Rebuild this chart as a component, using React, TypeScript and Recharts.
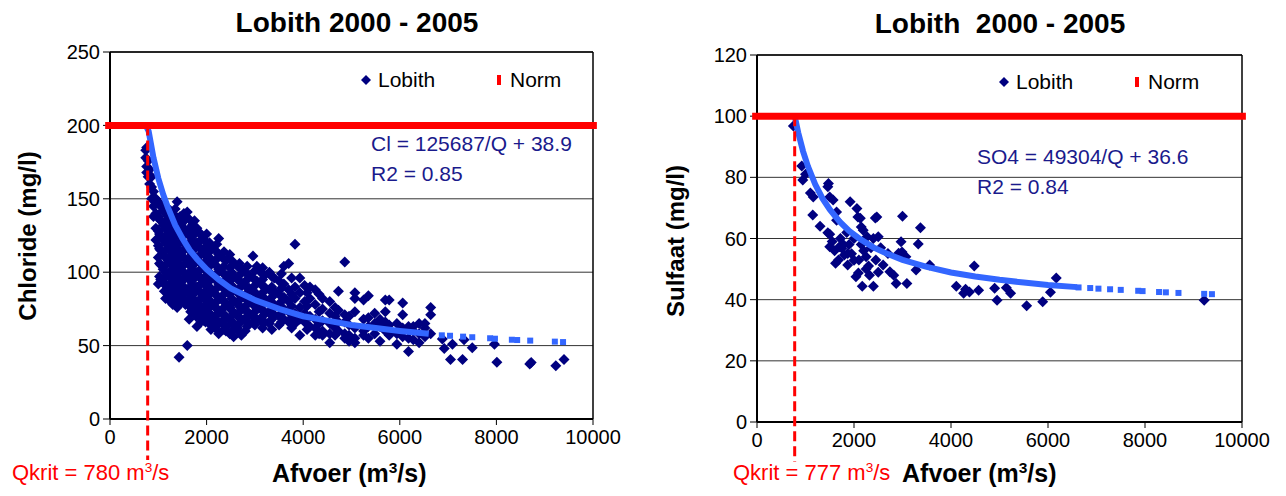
import React from "react";
import {
  ScatterChart,
  Scatter,
  XAxis,
  YAxis,
  CartesianGrid,
  ReferenceLine,
  Legend,
} from "recharts";
/* eslint-disable  @typescript-eslint/no-explicit-any */

const NAVY = "#000080";
const FIT_BLUE = "#3366ff";
const NORM_RED = "#ff0000";
const EQ_COLOR = "#1a1a8c";
const FONT = '"Liberation Sans", Arial, sans-serif';

const afvoerTicks = [0, 2000, 4000, 6000, 8000, 10000];
const chlorideTicks = [0, 50, 100, 150, 200, 250];
const sulfateTicks = [0, 20, 40, 60, 80, 100, 120];

// Lobith chloride, grouped per discharge: [Q (m3/s), Cl (mg/l) readings]
const chlorideCols: [number, number[]][] = [
  [740, [183, 178]],
  [760, [172, 168, 185]],
  [790, [176, 165]],
  [820, [170, 160]],
  [860, [158, 150, 165]],
  [900, [155, 145, 138]],
  [950, [150, 140, 130, 122]],
  [1000, [148, 138, 128, 118, 110, 92]],
  [1050, [145, 135, 125, 115, 105, 95]],
  [1100, [142, 132, 122, 112, 102, 93]],
  [1150, [140, 130, 120, 110, 100, 91, 82]],
  [1200, [138, 128, 118, 108, 98, 88]],
  [1250, [142, 133, 124, 115, 106, 97, 88, 80]],
  [1300, [140, 131, 122, 113, 104, 95, 86, 78]],
  [1390, [148, 137, 128, 119, 110, 101, 92, 83, 76]],
  [1430, [42, 135, 125, 115, 105, 95, 85, 78]],
  [1480, [133, 124, 114, 104, 94, 85, 80]],
  [1530, [140, 130, 120, 110, 100, 90, 81]],
  [1600, [141, 128, 118, 108, 98, 88, 80, 50]],
  [1640, [136, 125, 115, 105, 95, 85, 77, 68]],
  [1700, [132, 122, 112, 102, 92, 82, 75]],
  [1750, [135, 126, 116, 106, 96, 86, 78]],
  [1800, [130, 120, 110, 100, 90, 80, 72, 63]],
  [1850, [127, 117, 107, 97, 87, 78, 70]],
  [1900, [125, 115, 105, 95, 85, 76, 69]],
  [1950, [122, 112, 102, 92, 82, 74, 67]],
  [2000, [126, 118, 108, 98, 88, 78, 70]],
  [2060, [120, 110, 100, 90, 81, 72, 65]],
  [2120, [117, 107, 97, 87, 78, 70, 63]],
  [2180, [115, 105, 95, 85, 76, 68, 62]],
  [2250, [123, 112, 102, 92, 83, 74, 66, 58]],
  [2320, [110, 100, 90, 81, 72, 65]],
  [2400, [108, 98, 88, 79, 70, 63, 60]],
  [2480, [112, 103, 94, 85, 76, 68, 58]],
  [2560, [106, 97, 88, 80, 72, 65, 56]],
  [2640, [104, 95, 86, 78, 70, 62]],
  [2720, [102, 93, 84, 76, 68, 57]],
  [2800, [100, 91, 82, 74, 67, 60]],
  [2880, [98, 89, 80, 72, 65]],
  [2960, [111, 96, 87, 78, 70, 66]],
  [3040, [104, 94, 85, 76, 68]],
  [3120, [100, 92, 83, 75, 67]],
  [3200, [98, 90, 82, 73, 66]],
  [3300, [100, 88, 80, 72, 65]],
  [3400, [96, 87, 78, 71]],
  [3500, [94, 85, 77, 70, 64]],
  [3600, [104, 92, 83, 75, 68]],
  [3700, [106, 88, 80, 73, 66]],
  [3830, [119, 90, 82, 72, 65]],
  [3930, [96, 86, 76, 68, 57]],
  [4030, [91, 80, 72, 66]],
  [4140, [90, 82, 70, 63]],
  [4250, [88, 78, 68, 62, 57]],
  [4400, [82, 75, 67, 60, 57]],
  [4550, [80, 72, 65, 58, 52]],
  [4660, [76, 70, 62, 57]],
  [4730, [87, 74, 66, 60]],
  [4860, [107, 71, 66, 58, 55]],
  [4950, [70, 64, 57, 53]],
  [5070, [86, 82, 73, 62, 55, 52]],
  [5250, [81, 68, 60, 57]],
  [5350, [84, 69, 63, 55]],
  [5480, [72, 65, 58]],
  [5590, [68, 63, 53]],
  [5700, [81, 73, 66, 60]],
  [5780, [81, 64, 57]],
  [5940, [65, 58, 51]],
  [6060, [79, 71, 62, 56]],
  [6180, [63, 55, 46]],
  [6280, [63, 60, 54]],
  [6400, [65, 58, 52]],
  [6520, [65, 62, 56]],
  [6640, [76, 71, 58]],
  [6880, [54.5]],
  [6920, [48]],
  [7050, [40.6]],
  [7090, [51]],
  [7300, [40.6]],
  [7330, [54]],
  [7500, [48.6]],
  [7960, [51]],
  [8010, [38.6]],
  [8690, [37.5]],
  [8720, [38.5]],
  [9230, [36.3]],
  [9400, [40.6]],
];

// the dense core between 1000 and 4500 m3/s (readings in between the columns above)
const chlorideCoreCols: [number, number[]][] = [
  [1025, [146, 136, 126, 116, 106, 97]],
  [1125, [144, 134, 124, 114, 104, 96, 87]],
  [1225, [140, 130, 120, 110, 100, 92, 84]],
  [1275, [137, 127, 117, 108, 99, 90, 82]],
  [1350, [143, 134, 125, 116, 107, 98, 89, 81]],
  [1450, [138, 129, 120, 110, 100, 90, 82]],
  [1560, [136, 126, 116, 106, 96, 86, 78]],
  [1670, [130, 120, 110, 100, 90, 80, 73]],
  [1780, [127, 117, 107, 97, 87, 77, 70]],
  [1880, [122, 112, 102, 92, 82, 73, 66]],
  [1980, [121, 113, 103, 93, 84, 75, 66]],
  [2090, [115, 105, 95, 86, 77, 68, 61]],
  [2210, [119, 109, 99, 89, 80, 71, 64]],
  [2360, [114, 104, 94, 85, 76, 68, 61]],
  [2520, [108, 100, 91, 82, 74, 66, 60]],
  [2680, [106, 98, 89, 81, 73, 65, 59]],
  [2840, [104, 95, 86, 78, 70, 63]],
  [3000, [101, 91, 82, 73, 64]],
  [3160, [103, 95, 86, 78, 70, 62]],
  [3350, [97, 90, 83, 75, 68, 61]],
  [3550, [99, 89, 80, 72, 66]],
  [3760, [96, 85, 77, 69, 62]],
  [4080, [86, 77, 69, 61]],
  [4330, [85, 73, 65, 58]],
];

// fitted chloride, drawn solid where the points are dense
const chlorideFit: [number, number][] = [
  [740, 200], [800, 196], [900, 178], [1000, 164], [1100, 153], [1200, 144],
  [1350, 132], [1500, 123], [1650, 115], [1800, 109], [2000, 102], [2250, 95],
  [2500, 89], [2750, 85], [3000, 81], [3500, 75], [4000, 70], [4500, 67],
  [5000, 64], [5500, 62], [6000, 60], [6600, 58],
];
const chlorideFitTail: [number, number][] = [
  [6870, 57], [7040, 56.7], [7310, 56.1], [7500, 55.7], [7870, 55], [7970, 54.7],
  [8320, 54], [8430, 53.8], [8700, 53.4], [9210, 52.7], [9380, 52.4],
];

// Lobith sulfate: [Q (m3/s), SO4 (mg/l)]
const sulfatePoints: [number, number][] = [
  [750, 96.8], [923, 83.7], [944, 79.1], [1000, 81], [1100, 74.9], [1160, 73.6],
  [1150, 67.7], [1300, 64], [1460, 76.9], [1473, 78], [1500, 73.6], [1570, 72.6],
  [1460, 61.9], [1500, 61.4], [1500, 57.3], [1640, 68.7], [1640, 66], [1620, 51.9],
  [1700, 57.3], [1750, 56.8], [1800, 54.6], [1870, 55.1], [1870, 51.3], [1920, 72],
  [2000, 52.9], [2040, 47.5], [2060, 69.8], [2080, 67], [2130, 66.6], [2150, 63.8],
  [2190, 62.7], [2090, 48.7], [2170, 44.4], [2200, 56], [2270, 60.6], [2320, 48],
  [2250, 50], [2400, 60], [2400, 44.4], [2440, 66.7], [2470, 67], [2500, 60.6],
  [2550, 57], [2600, 51.3], [2700, 55.1], [2740, 49.1], [2820, 48], [2870, 45.3],
  [2920, 55.2], [2990, 55.6], [2970, 58.9], [3000, 67.3], [3070, 54], [3090, 45.3],
  [3280, 49.7], [3325, 58.2], [3370, 63.5], [3560, 51.3], [1550, 59], [1600, 56],
  [1680, 53], [1720, 60], [1780, 58], [1850, 62], [1900, 58], [1950, 55],
  [2000, 60], [2100, 53], [2150, 58], [2250, 54], [2300, 51], [2350, 57],
  [2450, 53], [2500, 49], [4110, 44.4], [4260, 42.1], [4300, 43.4], [4380, 42.5],
  [4480, 51], [4570, 43.1], [4900, 43.7], [4950, 39.8], [5140, 43.9], [5230, 42.1],
  [5560, 38], [5890, 39.3], [6050, 42.4], [6170, 47.1], [9220, 39.8],
];
const sulfateFit: [number, number][] = [
  [777, 100], [850, 94.6], [950, 88.5], [1050, 83.6], [1200, 77.7], [1350, 73.1],
  [1500, 69.5], [1700, 65.6], [1900, 62.5], [2100, 60.1], [2400, 57.1], [2700, 54.9],
  [3000, 53], [3500, 50.7], [4000, 48.9], [4500, 47.6], [5000, 46.5], [5500, 45.6],
  [6000, 44.8], [6600, 44.1],
];
const sulfateFitTail: [number, number][] = [
  [6630, 44], [6870, 43.8], [7040, 43.6], [7280, 43.4], [7500, 43.2], [7860, 42.9],
  [7950, 42.8], [8290, 42.5], [8430, 42.4], [8690, 42.2], [9220, 41.9], [9380, 41.8],
];

const toXY = (rows: [number, number][]) => rows.map(([q, c]) => ({ q, c }));
const fromCols = (cols: [number, number[]][]) =>
  cols.flatMap(([q, cs]) => cs.map((c) => ({ q, c })));

const Diamond = (props: any) => {
  const { cx, cy } = props;
  const r = 5.5;
  return (
    <path
      d={`M${cx},${cy - r}L${cx + r},${cy}L${cx},${cy + r}L${cx - r},${cy}Z`}
      fill={NAVY}
    />
  );
};

const FitSquare = (props: any) => {
  const { cx, cy } = props;
  return <rect x={cx - 3} y={cy - 3} width={6} height={6} fill={FIT_BLUE} />;
};

const NoShape = () => <g />;

const LegendBox = () => (
  <div
    style={{
      display: "flex",
      alignItems: "center",
      fontSize: 21,
      lineHeight: "24px",
      color: "#000",
      whiteSpace: "nowrap",
      fontFamily: FONT,
    }}
  >
    <svg width={12} height={12}>
      <path d="M6,1L11,6L6,11L1,6Z" fill={NAVY} />
    </svg>
    <span style={{ marginLeft: 6, width: 118, display: "inline-block" }}>Lobith</span>
    <svg width={6} height={12}>
      <rect x={1} y={1} width={4} height={10} fill={NORM_RED} />
    </svg>
    <span style={{ marginLeft: 8 }}>Norm</span>
  </div>
);

const Sup3 = () => (
  <span style={{ fontSize: "0.62em", position: "relative", top: "-0.6em" }}>3</span>
);

const Text = ({ x, y, children, style, center, rotate }: any) => (
  <div
    style={{
      position: "absolute",
      left: x,
      top: y,
      whiteSpace: "pre",
      lineHeight: 1,
      transform: `translate(${center ? "-50%" : "0"}, -50%)${rotate ? " rotate(-90deg)" : ""}`,
      ...style,
    }}
  >
    {children}
  </div>
);

function Panel({ left, width, marginTop, marginRight, xAxisHeight, points, fit, fitTail, yTicks, norm, qkrit, dashEnd, legendX, legendY }: any) {
  const yMax = yTicks[yTicks.length - 1];
  return (
    <div style={{ position: "absolute", left, top: 0 }}>
      <ScatterChart
        width={width}
        height={496}
        margin={{ top: marginTop, right: marginRight, bottom: 0, left: 0 }}
      >
        <CartesianGrid horizontal vertical={false} stroke="#333" />
        <XAxis
          type="number"
          dataKey="q"
          domain={[0, 10000]}
          ticks={afvoerTicks}
          height={xAxisHeight}
          tickSize={6}
          tickMargin={5}
          axisLine={{ stroke: "#000", strokeWidth: 2 }}
          tickLine={{ stroke: "#000" }}
          tick={{ fill: "#000", fontSize: 20 }}
          interval={0}
          allowDataOverflow
        />
        <YAxis
          type="number"
          dataKey="c"
          domain={[0, yMax]}
          ticks={yTicks}
          width={110}
          tickSize={7}
          tickMargin={3}
          axisLine={{ stroke: "#000", strokeWidth: 2 }}
          tickLine={{ stroke: "#000" }}
          tick={{ fill: "#000", fontSize: 20 }}
          interval={0}
          allowDataOverflow
        />
        <ReferenceLine y={yMax} stroke="#000" strokeWidth={1.5} />
        <ReferenceLine x={10000} stroke="#000" strokeWidth={1.5} />
        <Scatter
          name="Lobith"
          data={points}
          shape={<Diamond />}
          isAnimationActive={false}
        />
        <Scatter
          name="fit"
          data={toXY(fit)}
          line={{ stroke: FIT_BLUE, strokeWidth: 6 }}
          shape={<NoShape />}
          legendType="none"
          isAnimationActive={false}
        />
        <Scatter
          name="fit tail"
          data={toXY(fitTail)}
          shape={<FitSquare />}
          legendType="none"
          isAnimationActive={false}
        />
        <ReferenceLine
          segment={[
            { x: -100, y: norm },
            { x: 10080, y: norm },
          ]}
          ifOverflow="visible"
          stroke={NORM_RED}
          strokeWidth={7}
          zIndex={1000}
        />
        <ReferenceLine
          segment={[
            { x: qkrit, y: norm },
            { x: qkrit, y: dashEnd },
          ]}
          ifOverflow="visible"
          stroke={NORM_RED}
          strokeWidth={3}
          strokeDasharray="10 5"
          zIndex={1000}
        />
        <Legend
          layout="horizontal"
          verticalAlign="middle"
          align="center"
          content={<LegendBox />}
          wrapperStyle={{ left: legendX, top: legendY, right: "auto", width: "auto" }}
        />
      </ScatterChart>
    </div>
  );
}

export default function App() {
  const chloridePoints = [...fromCols(chlorideCols), ...fromCols(chlorideCoreCols)];
  return (
    <div
      style={{
        position: "relative",
        width: 1286,
        height: 496,
        margin: -8,
        background: "#fff",
        fontFamily: FONT,
        overflow: "hidden",
      }}
    >
      <Panel
        left={0}
        width={635}
        marginTop={52}
        marginRight={42}
        xAxisHeight={77}
        points={chloridePoints}
        fit={chlorideFit}
        fitTail={chlorideFitTail}
        yTicks={chlorideTicks}
        norm={200}
        qkrit={780}
        dashEnd={-28}
        legendX={360}
        legendY={68}
      />
      <Panel
        left={647}
        width={639}
        marginTop={55}
        marginRight={44}
        xAxisHeight={74}
        points={toXY(sulfatePoints)}
        fit={sulfateFit}
        fitTail={sulfateFitTail}
        yTicks={sulfateTicks}
        norm={100}
        qkrit={777}
        dashEnd={-13}
        legendX={351}
        legendY={70}
      />

      <Text x={357} y={23} center style={{ fontSize: 28, fontWeight: "bold" }}>
        Lobith 2000 - 2005
      </Text>
      <Text x={1000} y={24} center style={{ fontSize: 28, fontWeight: "bold" }}>
        Lobith  2000 - 2005
      </Text>

      <Text x={28} y={236} center rotate style={{ fontSize: 24, fontWeight: "bold" }}>
        Chloride (mg/l)
      </Text>
      <Text x={676} y={241} center rotate style={{ fontSize: 24, fontWeight: "bold" }}>
        Sulfaat (mg/l)
      </Text>

      <Text x={371} y={143} style={{ fontSize: 21, color: EQ_COLOR }}>
        Cl = 125687/Q + 38.9
      </Text>
      <Text x={371} y={173} style={{ fontSize: 21, color: EQ_COLOR }}>
        R2 = 0.85
      </Text>
      <Text x={977} y={156} style={{ fontSize: 21, color: EQ_COLOR }}>
        SO4 = 49304/Q + 36.6
      </Text>
      <Text x={977} y={186} style={{ fontSize: 21, color: EQ_COLOR }}>
        R2 = 0.84
      </Text>

      <Text x={12} y={473} style={{ fontSize: 22, color: NORM_RED }}>
        Qkrit = 780 m<Sup3 />/s
      </Text>
      <Text x={272} y={473} style={{ fontSize: 25, fontWeight: "bold" }}>
        Afvoer (m<Sup3 />/s)
      </Text>
      <Text x={733} y={473} style={{ fontSize: 22, color: NORM_RED }}>
        Qkrit = 777 m<Sup3 />/s
      </Text>
      <Text x={902} y={473} style={{ fontSize: 25, fontWeight: "bold" }}>
        Afvoer (m<Sup3 />/s)
      </Text>
    </div>
  );
}
